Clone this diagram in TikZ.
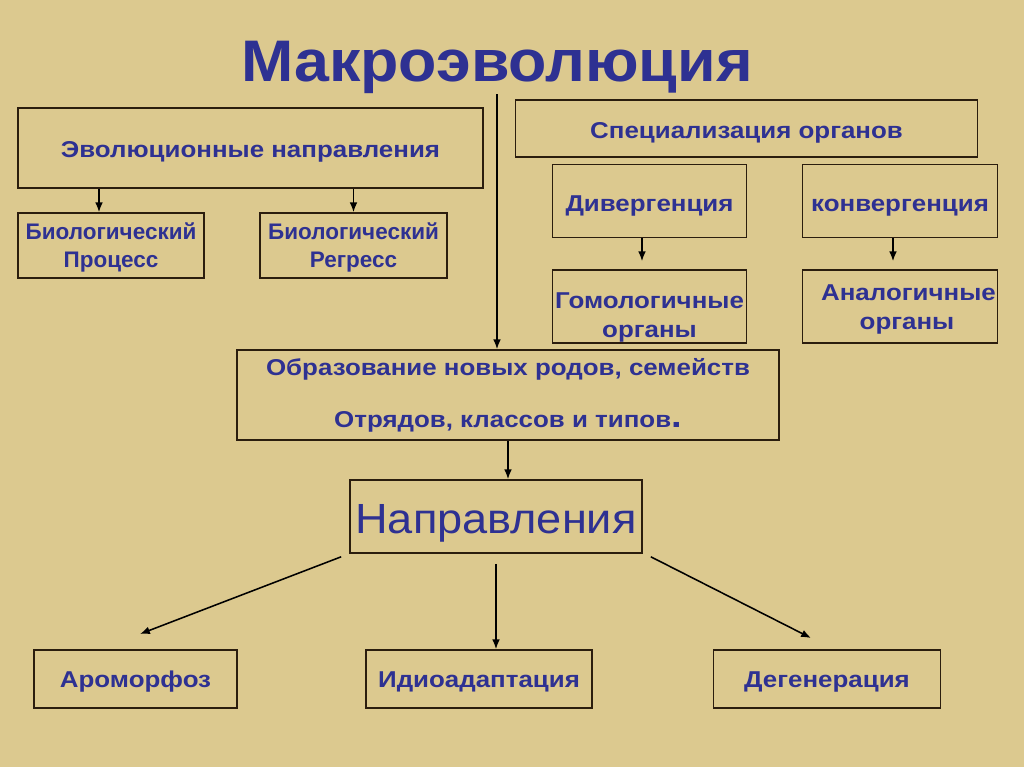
\documentclass[tikz,border=0pt]{standalone}
\usepackage{fontspec}
\setmainfont{Liberation Sans}
\newfontfamily\widefont[FakeStretch=1.13]{Liberation Sans}
\newfontfamily\titlefont[FakeStretch=1.07]{Liberation Sans}
\usetikzlibrary{arrows.meta,calc}

\definecolor{parchment}{HTML}{DCC98F}
\definecolor{inkblue}{HTML}{2E3192}
\definecolor{framecol}{HTML}{2B1D0E}

\begin{document}
\begin{tikzpicture}[x=0.025cm, y=-0.025cm,
	box/.style={draw=framecol, line width=1.1pt, inner sep=0pt, text=inkblue, align=center,
		font=\widefont\bfseries\fontsize{16.3}{21}\selectfont},
	txtdrop/.style={text height=#1, text depth=0pt},
	lowbox/.style={box, txtdrop=12.4pt, minimum width=#1, minimum height=1.45cm},
	arr/.style={-{Latex[length=7pt,width=5.5pt]}, line width=1.1pt}]
	\fill[parchment] (0,0) rectangle (1024,767);
	\useasboundingbox (0,0) rectangle (1024,767);
	% title and the long line under it
	\node[anchor=base, inner sep=0pt, text=inkblue, font=\titlefont\bfseries\fontsize{41.7}{48}\selectfont] (title) at (497,82) {Макроэволюция};
	% left part
	\node[box, txtdrop=14.2pt, minimum width=11.625cm, minimum height=2cm] (evo) at (250.5,148) {Эволюционные направления};
	\node[box, txtdrop=32pt, minimum width=4.65cm, minimum height=1.625cm, font=\bfseries\fontsize{16}{20}\selectfont] (bioprog) at (111,245.5) {Биологический\\Процесс};
	\node[box, txtdrop=32pt, minimum width=4.675cm, minimum height=1.625cm, font=\bfseries\fontsize{16}{20}\selectfont] (bioreg) at (353.5,245.5) {Биологический\\Регресс};
	% right part
	\node[box, txtdrop=14.2pt, minimum width=11.55cm, minimum height=1.425cm] (spec) at (746.5,128.5) {Специализация органов};
	\node[box, txtdrop=15.6pt, minimum width=4.85cm, minimum height=1.825cm] (diverg) at (649.5,201) {Дивергенция};
	\node[box, txtdrop=15.6pt, minimum width=4.875cm, minimum height=1.825cm] (converg) at (900,201) {конвергенция};
	\node[box, txtdrop=44.8pt, minimum width=4.85cm, minimum height=1.825cm] (homol) at (649.5,306.5) {Гомологичные\\органы};
	\node[box, txtdrop=33.4pt, minimum width=4.875cm, minimum height=1.825cm] (analog) at (900,306.5) {\hspace*{12pt}Аналогичные\\\hspace*{10pt}органы};
	% middle
	\node[box, minimum width=13.55cm, minimum height=2.25cm] (obraz) at (508,395) {Образование новых родов, семейств\\[16pt]Отрядов, классов и типов{\fontsize{24}{24}\selectfont.}};
	\node[box, txtdrop=23.5pt, minimum width=7.3cm, minimum height=1.825cm, font=\titlefont\fontsize{30}{34}\selectfont] (napr) at (496,516.5) {Направления};
	% bottom row
	\node[lowbox=5.075cm] (arom) at (135.5,679) {Ароморфоз};
	\node[lowbox=5.65cm] (idio) at (479,679) {Идиоадаптация};
	\node[lowbox=5.675cm] (degen) at (827,679) {Дегенерация};
	\coordinate (aromtip) at (140,634);
	\coordinate (degentip) at (811,638);

	\draw[arr] (title.south) -- (title.south |- obraz.north);
	\draw[arr] ($(evo.south -| bioprog.north)+(-12,0)$) -- ($(bioprog.north)+(-12,0)$);
	\draw[arr] (evo.south -| bioreg.north) -- (bioreg.north);
	\draw[arr, shorten >=0.2cm] ($(diverg.south)+(-7.5,0)$) -- ($(homol.north)+(-7.5,0)$);
	\draw[arr, shorten >=0.2cm] ($(converg.south)+(-7,0)$) -- ($(analog.north)+(-7,0)$);
	\draw[arr] (obraz.south) -- (obraz.south |- napr.north);
	\draw[arr] ($(napr.south west)+(-8,3)$) -- (aromtip);
	\draw[arr, shorten <=0.25cm] (napr.south) -- (napr.south |- idio.north);
	\draw[arr] ($(napr.south east)+(8,3)$) -- (degentip);
\end{tikzpicture}
\end{document}
